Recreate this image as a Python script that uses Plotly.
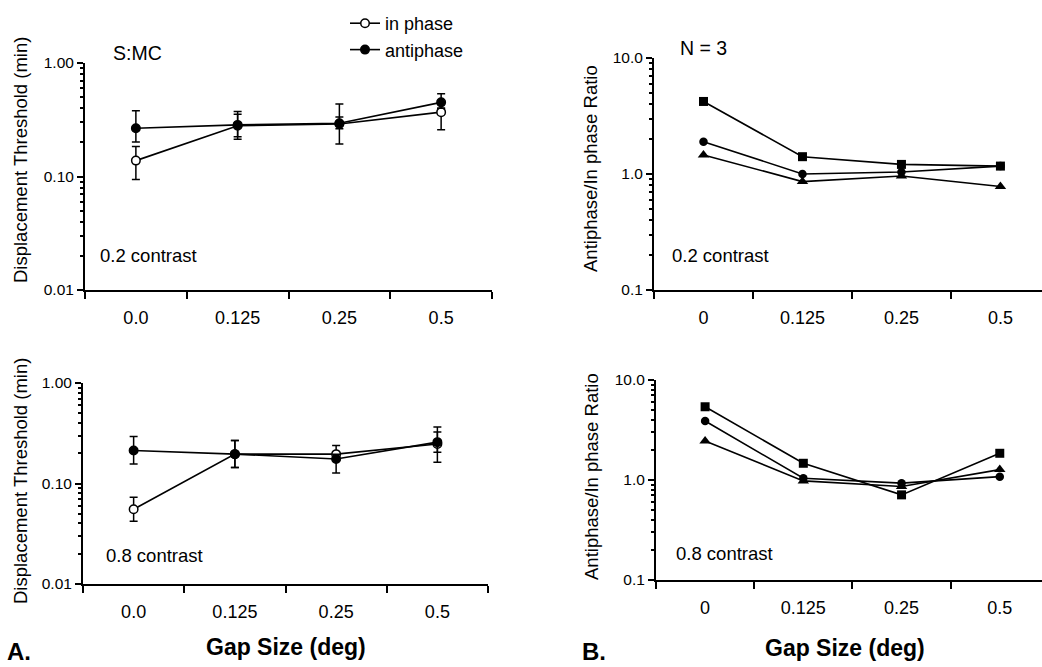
import numpy as np
import plotly.graph_objects as go

# ---------------- data ----------------
gap_labels_A = ["0.0", "0.125", "0.25", "0.5"]
gap_labels_B = ["0", "0.125", "0.25", "0.5"]
gap_index = [0, 1, 2, 3]

# Panel A, 0.2 contrast (displacement threshold, min)
inphase_02 = [0.138, 0.280, 0.290, 0.369]
inphase_02_lo = [0.094, 0.213, 0.193, 0.258]
inphase_02_hi = [0.184, 0.354, 0.435, 0.400]
antiphase_02 = [0.266, 0.285, 0.295, 0.450]
antiphase_02_lo = [0.201, 0.224, 0.263, 0.400]
antiphase_02_hi = [0.380, 0.373, 0.334, 0.536]

# Panel A, 0.8 contrast
inphase_08 = [0.0555, 0.196, 0.196, 0.247]
inphase_08_lo = [0.042, 0.144, 0.172, 0.163]
inphase_08_hi = [0.073, 0.268, 0.239, 0.325]
antiphase_08 = [0.213, 0.196, 0.175, 0.258]
antiphase_08_lo = [0.156, 0.144, 0.127, 0.205]
antiphase_08_hi = [0.294, 0.268, 0.195, 0.364]

# Panel B, antiphase / in phase ratio, three observers
ratio_sq_02 = [4.22, 1.41, 1.21, 1.17]
ratio_ci_02 = [1.90, 1.00, 1.04, 1.17]
ratio_tr_02 = [1.46, 0.86, 0.96, 0.78]
ratio_sq_08 = [5.40, 1.47, 0.71, 1.85]
ratio_ci_08 = [3.89, 1.04, 0.93, 1.08]
ratio_tr_08 = [2.45, 0.98, 0.86, 1.27]

FONT = "Liberation Sans, Arial, Helvetica, sans-serif"
W, H = 1042, 667

def px_x(p):
    return p / W

def px_y(p):
    return 1 - p / H

fig = go.Figure()

def add_A(xa, ya, vals, lo, hi, name, filled, show):
    v = np.array(vals); l = np.array(lo); h = np.array(hi)
    fig.add_trace(go.Scatter(
        x=gap_index, y=v, xaxis=xa, yaxis=ya, name=name, showlegend=show,
        mode="lines+markers",
        line=dict(color="black", width=1.6),
        marker=dict(symbol="circle", size=8.5,
                    color="black" if filled else "white",
                    line=dict(color="black", width=1.5)),
        error_y=dict(type="data", symmetric=False, array=h - v, arrayminus=v - l,
                     color="black", thickness=1.5, width=4),
    ))

add_A("x", "y", inphase_02, inphase_02_lo, inphase_02_hi, "in phase", False, True)
add_A("x", "y", antiphase_02, antiphase_02_lo, antiphase_02_hi, "antiphase", True, True)
add_A("x2", "y2", inphase_08, inphase_08_lo, inphase_08_hi, "in phase", False, False)
add_A("x2", "y2", antiphase_08, antiphase_08_lo, antiphase_08_hi, "antiphase", True, False)

def add_B(xa, ya, vals, symbol, size):
    fig.add_trace(go.Scatter(
        x=gap_index, y=vals, xaxis=xa, yaxis=ya, showlegend=False,
        mode="lines+markers",
        line=dict(color="black", width=1.6),
        marker=dict(symbol=symbol, size=size, color="black"),
    ))

add_B("x3", "y3", ratio_sq_02, "square", 9)
add_B("x3", "y3", ratio_ci_02, "circle", 8.5)
add_B("x3", "y3", ratio_tr_02, "triangle-up", 10)
add_B("x4", "y4", ratio_sq_08, "square", 9)
add_B("x4", "y4", ratio_ci_08, "circle", 8.5)
add_B("x4", "y4", ratio_tr_08, "triangle-up", 10)

bounds = [-0.5, 0.5, 1.5, 2.5, 3.5]

def xcfg(x0, x1, anchor, labels, rng):
    return dict(
        domain=[px_x(x0), px_x(x1)], anchor=anchor, range=rng,
        tickmode="array", tickvals=gap_index, ticktext=labels,
        ticks="", ticklen=0, ticklabelstandoff=10,
        showline=True, linecolor="black", linewidth=2,
        showgrid=False, zeroline=False, automargin=False,
        tickfont=dict(size=18, color="black", family=FONT),
        minor=dict(tickmode="array", tickvals=bounds, ticks="outside",
                   ticklen=7, tickwidth=2, tickcolor="black", showgrid=False),
    )

def ycfg(y_top, y_bot, anchor, dec_lo, dec_hi, labels):
    majors = [10.0 ** e for e in range(dec_lo, dec_hi + 1)]
    minors = [m * 10.0 ** e for e in range(dec_lo, dec_hi) for m in range(2, 10)]
    return dict(
        domain=[px_y(y_bot), px_y(y_top)], anchor=anchor, type="log",
        range=[dec_lo, dec_hi],
        tickmode="array", tickvals=majors, ticktext=labels,
        ticks="outside", ticklen=6, tickwidth=2, tickcolor="black",
        showline=True, linecolor="black", linewidth=2,
        showgrid=False, zeroline=False, automargin=False,
        tickfont=dict(size=15.5, color="black", family=FONT),
        minor=dict(tickmode="array", tickvals=minors, ticks="outside",
                   ticklen=3, tickwidth=1.5, tickcolor="black", showgrid=False),
    )

fig.update_layout(
    width=W, height=H, autosize=False,
    margin=dict(l=0, r=0, t=0, b=0, pad=0, autoexpand=False),
    paper_bgcolor="white", plot_bgcolor="white",
    font=dict(family=FONT, color="black"),
    xaxis=xcfg(85, 492, "y", gap_labels_A, [-0.5, 3.5]),
    yaxis=ycfg(63, 290, "x", -2, 0, ["0.01", "0.10", "1.00"]),
    xaxis2=xcfg(83, 488, "y2", gap_labels_A, [-0.5, 3.5]),
    yaxis2=ycfg(383, 584, "x2", -2, 0, ["0.01", "0.10", "1.00"]),
    xaxis3=xcfg(654, 1042, "y3", gap_labels_B, [-0.5, 3.42]),
    yaxis3=ycfg(58, 290, "x3", -1, 1, ["0.1", "1.0", "10.0"]),
    xaxis4=xcfg(656, 1042, "y4", gap_labels_B, [-0.5, 3.43]),
    yaxis4=ycfg(380, 580, "x4", -1, 1, ["0.1", "1.0", "10.0"]),
    legend=dict(x=px_x(345), y=px_y(5), xanchor="left", yanchor="top",
                font=dict(size=18, color="black", family=FONT),
                bgcolor="rgba(0,0,0,0)", borderwidth=0, traceorder="normal",
                itemwidth=30, tracegroupgap=0),
)

def ann(text, x, y, size, xanchor="left", yanchor="middle", bold=False, angle=0):
    fig.add_annotation(
        text=f"<b>{text}</b>" if bold else text,
        x=px_x(x), y=px_y(y), xref="paper", yref="paper",
        xanchor=xanchor, yanchor=yanchor, showarrow=False, textangle=angle,
        font=dict(size=size, color="black", family=FONT),
    )

ann("S:MC", 111, 53, 19.5)
ann("N = 3", 678, 48, 19.5)
ann("0.2 contrast", 98, 255, 18.5)
ann("0.8 contrast", 104, 555, 18.5)
ann("0.2 contrast", 670, 255, 18.5)
ann("0.8 contrast", 674, 553, 18.5)
ann("Displacement Threshold (min)", 20, 160, 18.5, xanchor="center", angle=-90)
ann("Displacement Threshold (min)", 20, 481, 18.5, xanchor="center", angle=-90)
ann("Antiphase/In phase Ratio", 590, 169, 18.5, xanchor="center", angle=-90)
ann("Antiphase/In phase Ratio", 591, 477, 18.5, xanchor="center", angle=-90)
ann("Gap Size (deg)", 286, 647, 23, xanchor="center", bold=True)
ann("Gap Size (deg)", 845, 648, 23, xanchor="center", bold=True)
ann("A.", 5, 651, 24, bold=True)
ann("B.", 580, 651, 24, bold=True)

fig.write_html(
    "out.html",
    config={"displayModeBar": False},
    post_script="document.body.style.margin='0';document.body.style.overflow='hidden';",
)
